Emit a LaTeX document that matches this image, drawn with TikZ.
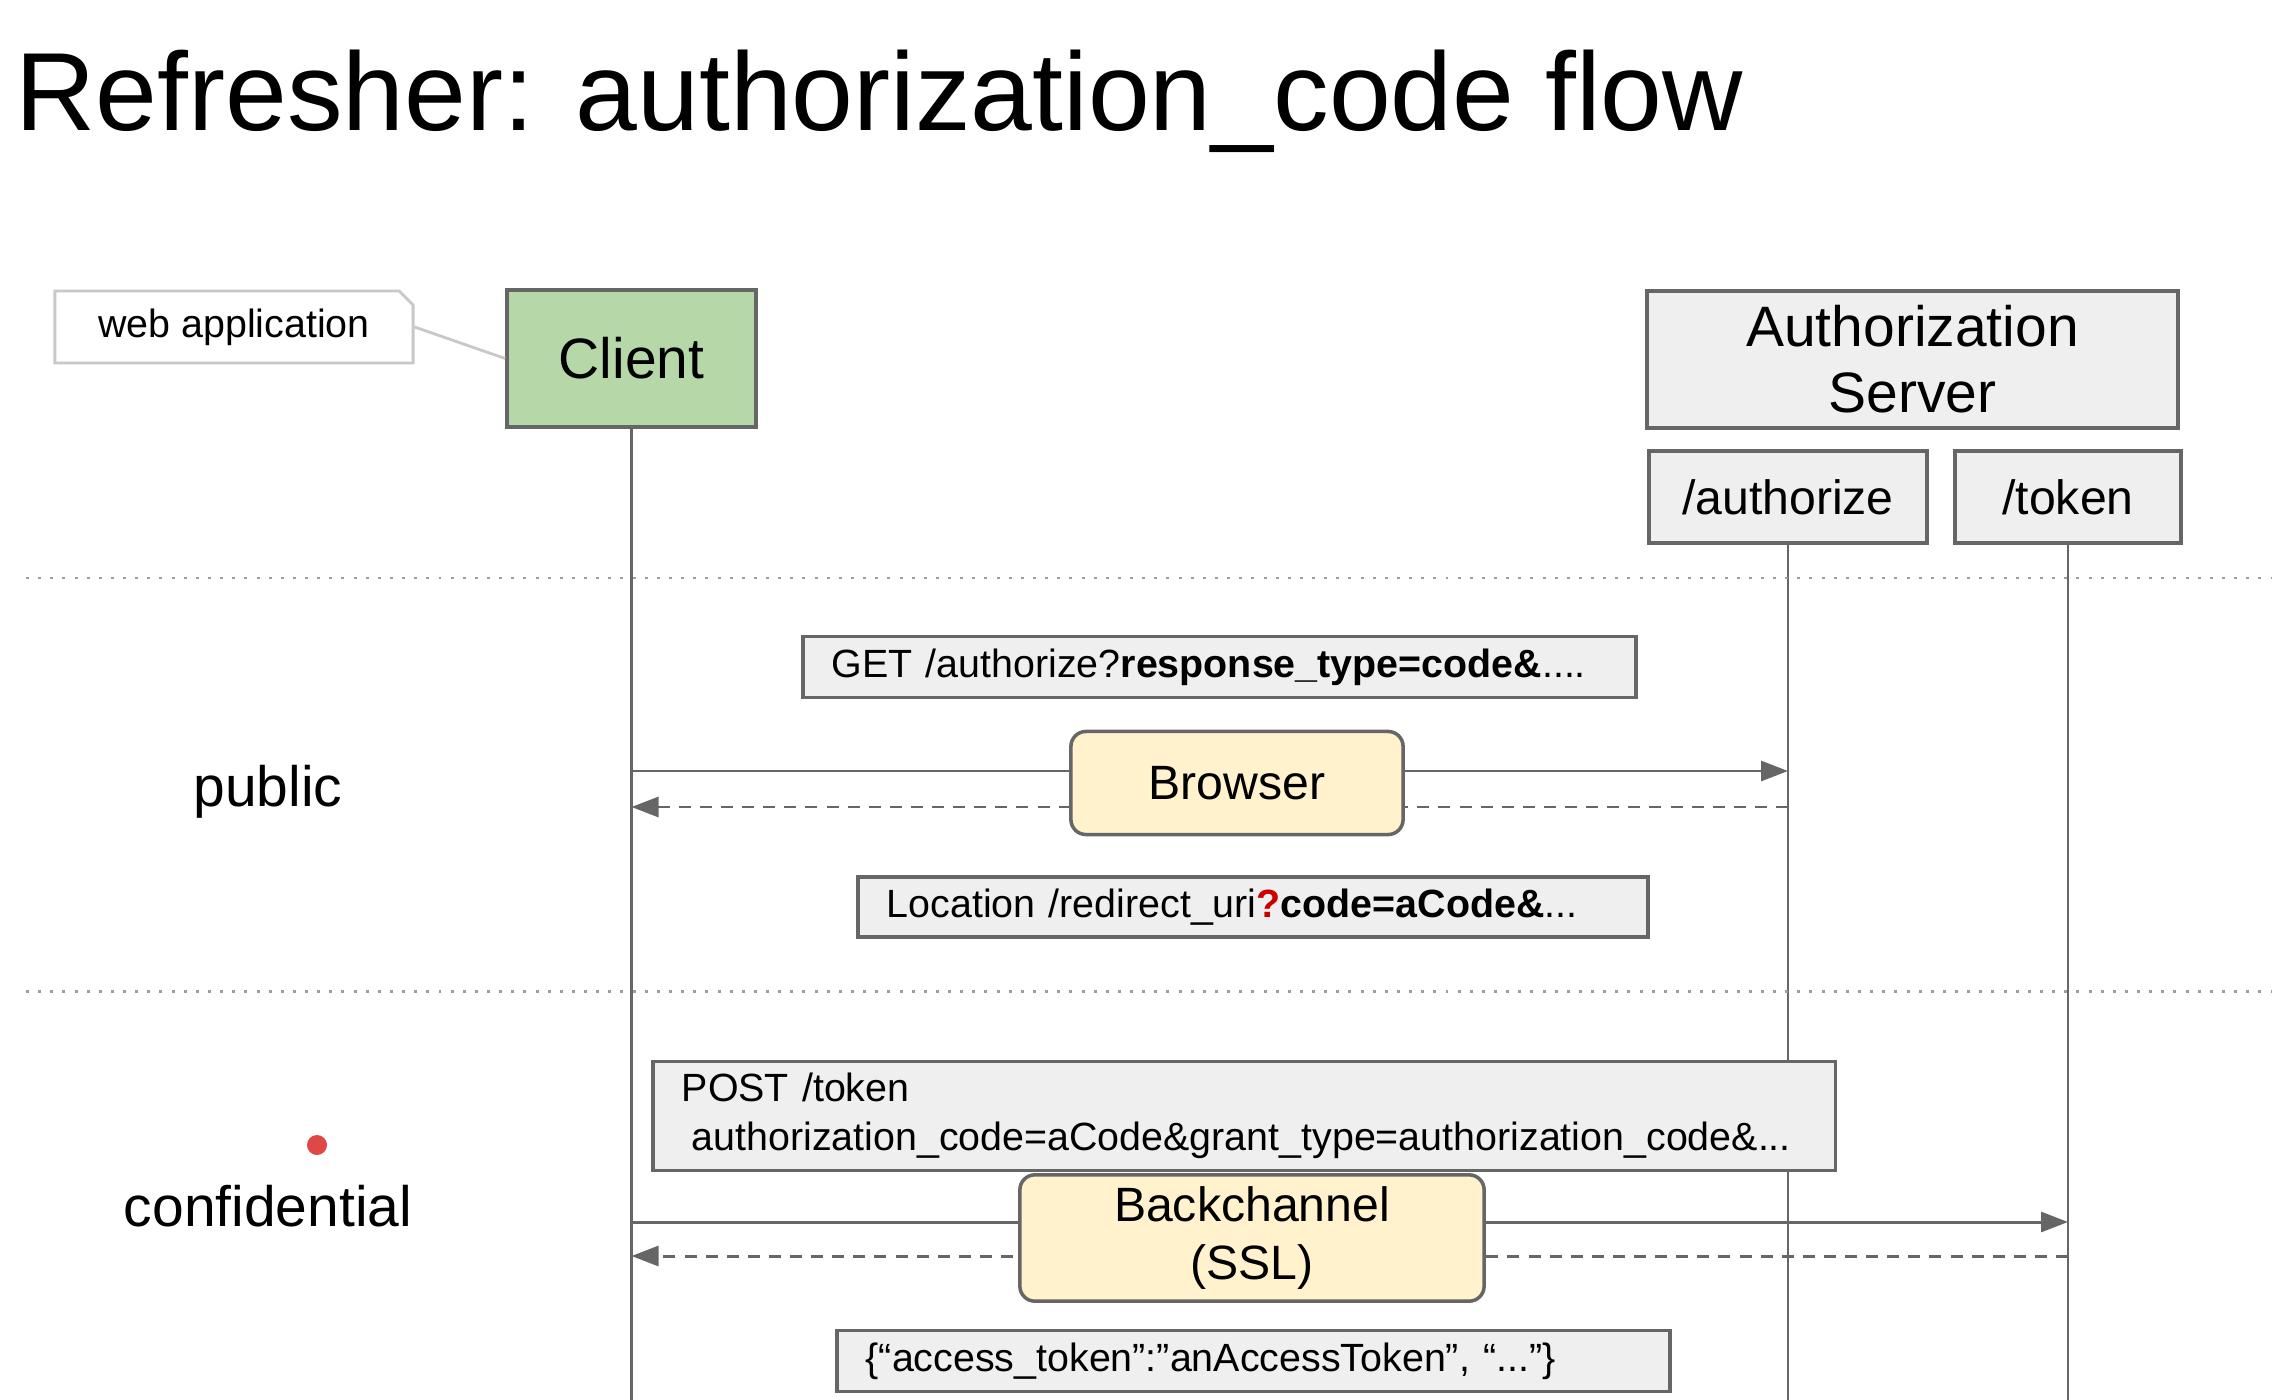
\documentclass[tikz,border=0pt]{standalone}
\usepackage{fontspec}
\setmainfont{Liberation Sans}
\usetikzlibrary{arrows.meta,shapes.misc}
\definecolor{clientgreen}{HTML}{B6D7A8}
\definecolor{boxgrey}{HTML}{EFEFEF}
\definecolor{channelyellow}{HTML}{FFF2CC}
\definecolor{edgegrey}{HTML}{666666}
\definecolor{notegrey}{HTML}{C8C8C8}
\definecolor{zonegrey}{HTML}{9E9E9E}
\definecolor{markred}{HTML}{CC0000}
\definecolor{pointred}{HTML}{E04848}

\begin{document}
\begin{tikzpicture}[x=0.01cm, y=-0.01cm, >={Triangle[length=0.27cm,width=0.2cm]},
  actor/.style={draw=edgegrey, line width=1pt, minimum height=1.37cm, align=center,
    font=\fontsize{16.2}{18.8}\selectfont},
  endpoint/.style={draw=edgegrey, line width=1pt, fill=boxgrey, minimum height=0.92cm,
    font=\fontsize{13.7}{16}\selectfont},
  msgbox/.style={draw=edgegrey, line width=1pt, fill=boxgrey, anchor=west, align=left,
    inner xsep=0.29cm, font=\fontsize{11.2}{14}\selectfont},
  channel/.style={draw=edgegrey, line width=1pt, fill=channelyellow, rounded corners=0.15cm,
    align=center, font=\fontsize{13.7}{16.5}\selectfont},
  lifeline/.style={edgegrey, line width=0.75pt},
  call/.style={edgegrey, line width=0.85pt, ->},
  reply/.style={call, dash pattern=on 3.4pt off 2.6pt},
  zone/.style={zonegrey, line width=0.85pt, dash pattern=on 0.85pt off 2.6pt},
  side/.style={anchor=base, font=\fontsize{16.2}{18.8}\selectfont}]
  \useasboundingbox (0,0) rectangle (2272,1400);

  % title
  \node[anchor=base west, inner sep=0, font=\fontsize{31.6}{36}\selectfont] (title) at (15,131)
    {Refresher: authorization\_code flow};

  % actors
  \node[actor, fill=clientgreen, minimum width=2.49cm] (client) at (631.5,358.5) {Client};
  \node[actor, fill=boxgrey, minimum width=5.31cm] (server) at (1912.5,359.5) {Authorization\\Server};
  \node[endpoint, minimum width=2.78cm] (authorize) at (1788,497) {/authorize};
  \node[endpoint, minimum width=2.26cm] (token) at (2068,497) {/token};
  \node[draw=notegrey, line width=0.8pt, fill=white, chamfered rectangle,
    chamfered rectangle corners=north east, chamfered rectangle xsep=0.07cm,
    chamfered rectangle ysep=0.07cm, inner ysep=0pt,
    minimum width=3.58cm, minimum height=0.72cm, font=\fontsize{11.2}{14}\selectfont]
    (webapp) at (234,327) {web application};
  \draw[notegrey, line width=0.8pt] (webapp.east) -- (client.west);

  % lifelines
  \coordinate (floor) at (0,1400);
  \draw[lifeline] (client.south) -- (client.south |- floor);
  \draw[lifeline] (authorize.south) -- (authorize.south |- floor);
  \draw[lifeline] (token.south) -- (token.south |- floor);

  % zones
  \draw[zone] (26,578) -- (2272,578);
  \draw[zone] (26,991) -- (2272,991);
  \node[side] (public) at (268,806) {public};
  \node[side] (confidential) at (268,1226) {confidential};
  \fill[pointred] (317,1145) circle (0.1cm);

  % front channel
  \coordinate (go1) at (0,771);
  \coordinate (back1) at (0,807);
  \draw[call] (client.south |- go1) -- (authorize.south |- go1);
  \draw[reply] (authorize.south |- back1) -- (client.south |- back1);
  \node[msgbox, text width=7.75cm, minimum height=0.61cm] (getreq) at (801,667)
    {GET /authorize?\textbf{response\_type=code\&}....};
  \node[channel, minimum width=3.32cm, minimum height=1.03cm] (browser) at (1237,783) {Browser};
  \node[msgbox, text width=7.32cm, minimum height=0.6cm] (location) at (856,907)
    {Location /redirect\_uri\textcolor{markred}{\textbf{?}}\textbf{code=aCode\&}...};

  % back channel
  \coordinate (go2) at (0,1222);
  \coordinate (back2) at (0,1256);
  \draw[call] (client.south |- go2) -- (token.south |- go2);
  \draw[reply] (token.south |- back2) -- (client.south |- back2);
  \node[msgbox, text width=11.24cm, minimum height=0.93cm] (postreq) at (651,1116)
    {POST /token\\\hspace{0.1cm}authorization\_code=aCode\&grant\_type=authorization\_code\&...};
  \node[channel, minimum width=4.64cm, minimum height=1.23cm] (backchannel) at (1252,1238)
    {Backchannel\\(SSL)};
  \node[msgbox, text width=7.75cm, minimum height=0.61cm] (tokenresp) at (835,1361)
    {\{“access\_token”:”anAccessToken”, “...”\}};
\end{tikzpicture}
\end{document}
